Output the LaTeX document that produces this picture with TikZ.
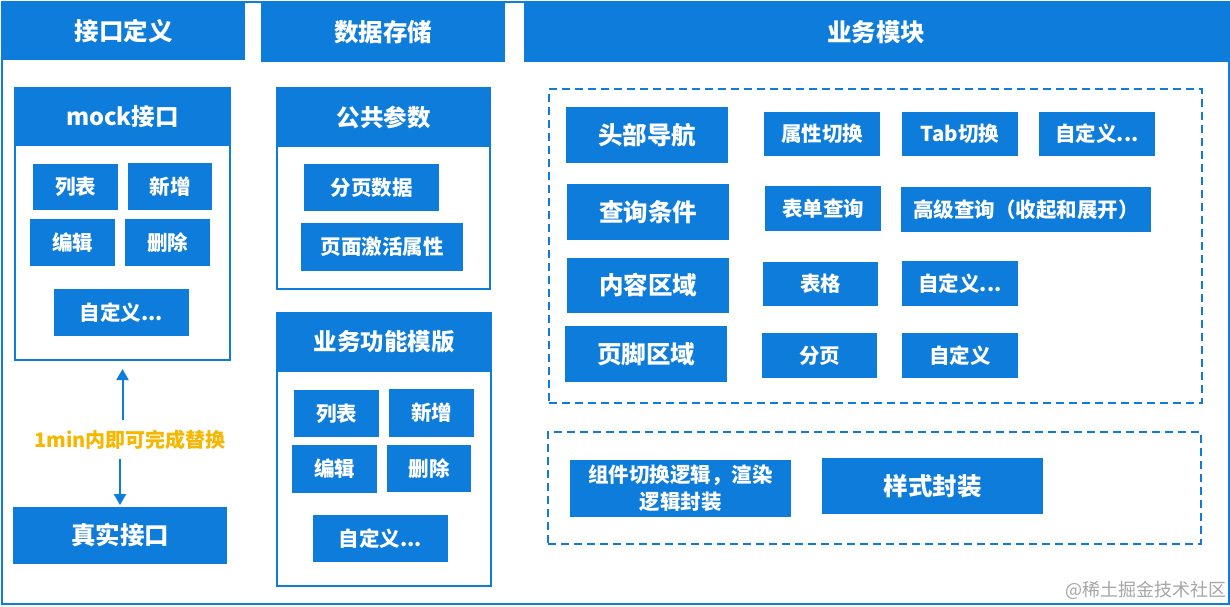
\documentclass[tikz,border=0pt]{standalone}
\usepackage{fontspec}
\setmainfont{Noto Sans CJK SC}
\usetikzlibrary{arrows.meta}
\definecolor{bl}{RGB}{14,124,219}
\definecolor{og}{RGB}{246,183,0}
\newcommand\rbox[7][box]{\node[#1, minimum width={(#5-#3)*1pt}, minimum height={(#6-#4)*1pt}] (#2) at ({(#3+#5)/2},{(#4+#6)/2}) {#7};}
\tikzset{
  base/.style={inner sep=0pt, outer sep=0pt, text=white, fill=bl},
  hdr/.style={base, font=\fontsize{24.5}{30}\selectfont\bfseries},
  chdr/.style={base, font=\fontsize{23.5}{30}\selectfont\bfseries},
  box/.style={base, font=\fontsize{20.5}{27}\selectfont\bfseries},
  cont/.style={draw=bl, line width=2pt, inner sep=0pt},
  dashbox/.style={draw=bl, line width=2pt, dash pattern=on 8pt off 5pt, inner sep=0pt},
  arr/.style={draw=bl, line width=2pt, -{Triangle[width=12pt,length=11pt]}},
}
\begin{document}
\begin{tikzpicture}[x=1pt, y=-1pt]
\useasboundingbox (0,0) rectangle (1230,606);
\fill[white] (0,0) rectangle (1230,606);
\draw[bl, line width=2pt] (2,1.5) rectangle (1228.5,604);
% top headers
\rbox[hdr]{h1}{2}{3}{245}{60}{接口定义}
\rbox[hdr]{h2}{261}{3}{505}{62}{数据存储}
\rbox[hdr]{h3}{524}{3}{1228}{62}{业务模块}
% left column
\rbox[cont]{mock}{15}{88}{230}{360}{}
\rbox[chdr]{mockh}{14}{87}{231}{146}{mock接口}
\rbox{m1}{33}{164}{118}{210}{列表}
\rbox{m2}{128}{163}{212}{210}{新增}
\rbox{m3}{30}{219}{115}{266}{编辑}
\rbox{m4}{125}{219}{210}{266}{删除}
\rbox{m5}{54}{289}{189}{336}{自定义...}
\rbox[hdr]{real}{13}{507}{227}{564}{真实接口}
\node[inner sep=0pt, minimum height=20pt, text=og, font=\fontsize{20}{24}\selectfont\bfseries] (lbl) at (130,440) {1min内即可完成替换};
\draw[arr, shorten <=10pt, shorten >=8pt] (lbl.north -| mock.south) -- (mock.south);
\draw[arr, shorten <=9pt, shorten >=2pt] (lbl.south -| real.north) -- (real.north);
% middle column
\rbox[cont]{pub}{277}{88}{490}{289}{}
\rbox[chdr]{pubh}{276}{87}{491}{147}{公共参数}
\rbox{p1}{304}{164}{439}{211}{分页数据}
\rbox{p2}{301}{223}{463}{271}{页面激活属性}
\rbox[cont]{tpl}{277}{313}{491}{586}{}
\rbox[chdr]{tplh}{276}{312}{492}{372}{业务功能模版}
\rbox{t1}{294}{390}{379}{437}{列表}
\rbox{t2}{389}{389}{474}{437}{新增}
\rbox{t3}{292}{445}{377}{493}{编辑}
\rbox{t4}{387}{445}{471}{492}{删除}
\rbox{t5}{313}{515}{448}{562}{自定义...}
% right column
\rbox[dashbox]{d1}{549}{89}{1202}{403}{}
\rbox[dashbox]{d2}{548}{432}{1201}{544}{}
\rbox[hdr]{r1}{566}{107}{728}{163}{头部导航}
\rbox{r11}{764}{112}{880}{156}{属性切换}
\rbox{r12}{902}{112}{1018}{156}{Tab切换}
\rbox{r13}{1039}{112}{1155}{156}{自定义...}
\rbox[hdr]{r2}{567}{184}{729}{240}{查询条件}
\rbox{r21}{765}{186}{881}{231}{表单查询}
\rbox{r22}{901}{187}{1151}{232}{高级查询（收起和展开）}
\rbox[hdr]{r3}{567}{258}{729}{313}{内容区域}
\rbox{r31}{763}{262}{878}{306}{表格}
\rbox{r32}{902}{261}{1018}{306}{自定义...}
\rbox[hdr]{r4}{565}{326}{727}{382}{页脚区域}
\rbox{r41}{762}{333}{877}{378}{分页}
\rbox{r42}{902}{333}{1018}{378}{自定义}
\rbox[box, align=center, font=\fontsize{20.5}{27}\selectfont\bfseries]{s1}{570}{460}{791}{517}{组件切换逻辑，渲染\\逻辑封装}
\rbox[hdr]{s2}{822}{458}{1043}{514}{样式封装}
\node[inner sep=0pt, text=black!35, font=\fontsize{18}{20}\selectfont] (wm) at (1146,590) {@稀土掘金技术社区};
\end{tikzpicture}
\end{document}
